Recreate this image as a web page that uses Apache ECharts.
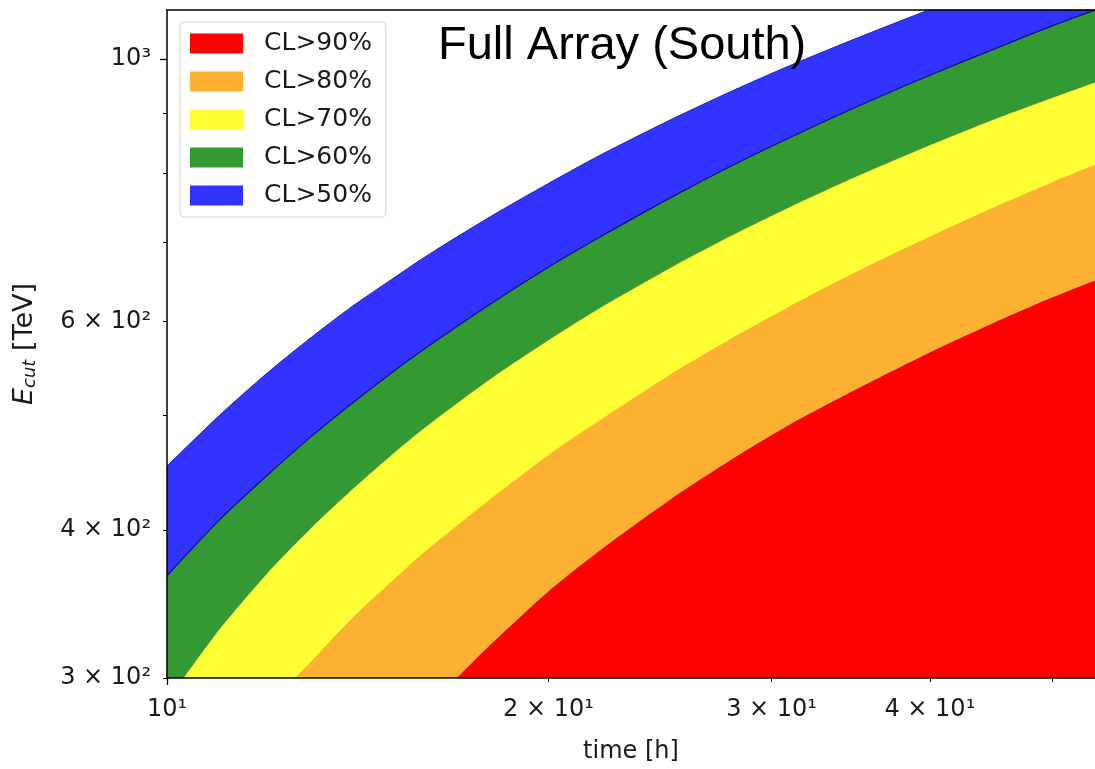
<!DOCTYPE html>
<html><head><meta charset="utf-8">
<script src="https://cdn.jsdelivr.net/npm/echarts@6/dist/echarts.min.js"></script>
<style>html,body{margin:0;padding:0;background:#fff}#c{width:1095px;height:769px}</style>
</head><body><div id="c"></div>
<script>
// ---- data ----
const seriesNames = ['CL>90%', 'CL>80%', 'CL>70%', 'CL>60%', 'CL>50%'];
const bandColors  = ['#ff0000', '#fdb132', '#ffff33', '#339933', '#3333ff'];

// upper boundary of each band: time [h] and E_cut [TeV]
const timeBlue   = [10, 11, 12, 13, 14, 15, 16, 18, 20, 22, 25, 28, 31, 35, 40, 45, 50, 54];
const eBlueTop   = [453, 500, 543, 582, 618, 650, 681, 736, 785, 830, 889, 941, 987, 1041, 1101, 1154, 1201, 1235];
const timeGreen  = [10, 11, 12, 13, 14, 15, 16, 18, 20, 22, 25, 28, 31, 35, 40, 45, 50, 54];
const eGreenTop  = [366, 408, 445, 480, 512, 542, 570, 621, 667, 708, 764, 814, 858, 911, 969, 1020, 1067, 1100];
const timeYellow = [10.3, 11, 12, 13, 14, 15, 16, 18, 20, 22, 25, 28, 31, 35, 40, 45, 50, 54];
const eYellowTop = [300, 330, 368, 402, 433, 462, 489, 537, 579, 617, 667, 711, 750, 796, 846, 890, 928, 956];
const timeOrange = [12.62, 13, 14, 15, 16, 18, 20, 22, 25, 28, 31, 35, 40, 45, 50, 54];
const eOrangeTop = [300, 310, 337, 361, 384, 425, 463, 496, 542, 582, 618, 661, 708, 750, 787, 814];
const timeRed    = [16.94, 18, 20, 22, 25, 28, 31, 35, 40, 45, 50, 54];
const eRedTop    = [300, 320, 355, 385, 425, 460, 491, 526, 565, 599, 629, 650];

// axes
const xMin = 10, xMax = 54, yMin = 300, yMax = 1100;
const xMajorTicks = [10];
const xMinorTicks = [20, 30, 40, 50];
const xLabelValues = [10, 20, 30, 40];
const xLabelTexts  = ['10¹', '2 × 10¹', '3 × 10¹', '4 × 10¹'];
const yMajorTicks = [1000];
const yMinorTicks = [300, 400, 500, 600, 700, 800, 900];
const yLabelValues = [300, 400, 600, 1000];
const yLabelTexts  = ['3 × 10²', '4 × 10²', '6 × 10²', '10³'];

const titleText = 'Full Array (South)';
const xName = 'time [h]';

// ---- chart ----
const zip = (a, b) => a.map((v, i) => [v, b[i]]);
const fmt = (vals, texts) => v => {
  for (let i = 0; i < vals.length; i++) if (Math.abs(v - vals[i]) / vals[i] < 1e-6) return texts[i];
  return '';
};
const baseFont = "'DejaVu Sans'";
const txt = '#1a1a1a';

const bands = [
  { name: seriesNames[4], data: zip(timeBlue, eBlueTop), color: bandColors[4], line: '#2020cc', lw: 1 },
  { name: seriesNames[3], data: zip(timeGreen, eGreenTop), color: bandColors[3], line: '#10107a', lw: 1.2 },
  { name: seriesNames[2], data: zip(timeYellow, eYellowTop), color: bandColors[2], line: '#5c8a2a', lw: 0.6 },
  { name: seriesNames[1], data: zip(timeOrange, eOrangeTop), color: bandColors[1], line: bandColors[1], lw: 0 },
  { name: seriesNames[0], data: zip(timeRed, eRedTop), color: bandColors[0], line: bandColors[0], lw: 0 }
];

const chart = echarts.init(document.getElementById('c'), null, { renderer: 'canvas' });
const axisLineStyle = { color: '#000', width: 1.5 };
chart.setOption({
  animation: false,
  backgroundColor: '#fff',
  title: {
    text: titleText, left: 433, top: 18,
    textStyle: { fontFamily: "'Liberation Sans'", fontSize: 47, fontWeight: 'normal', color: '#000' }
  },
  grid: { left: 167, right: 0, top: 10, bottom: 86, containLabel: false },
  legend: {
    data: seriesNames.map((n, i) => ({ name: n, icon: 'rect', itemStyle: { color: bandColors[i], borderWidth: 0 } })),
    orient: 'vertical', left: 180, top: 22,
    itemWidth: 53, itemHeight: 20, itemGap: 13,
    padding: [9, 14, 9, 10],
    borderColor: '#d4d4d4', borderWidth: 1, borderRadius: 4, backgroundColor: '#ffffff',
    textStyle: { fontFamily: baseFont, fontSize: 25, color: txt, padding: [0, 0, 0, 16] },
    selectedMode: false, z: 20
  },
  xAxis: [
    {
      type: 'log', logBase: 10, min: xMin, max: xMax, position: 'bottom', z: 10,
      name: xName, nameLocation: 'middle', nameGap: 62,
      nameTextStyle: { fontFamily: baseFont, fontSize: 24, color: txt },
      axisLine: { show: true, lineStyle: axisLineStyle },
      axisTick: { show: true, length: 7, lineStyle: { color: '#000', width: 1.3 }, customValues: xMajorTicks },
      axisLabel: { show: true, margin: 20, fontFamily: baseFont, fontSize: 24, color: txt, customValues: xLabelValues, formatter: fmt(xLabelValues, xLabelTexts) },
      splitLine: { show: false }, minorTick: { show: false }
    },
    {
      type: 'log', logBase: 10, min: xMin, max: xMax, position: 'bottom', z: 10,
      axisLine: { show: false },
      axisTick: { show: true, length: 4, lineStyle: { color: '#000', width: 1 }, customValues: xMinorTicks },
      axisLabel: { show: false }, splitLine: { show: false }
    },
    {
      type: 'log', logBase: 10, min: xMin, max: xMax, position: 'top', z: 10,
      axisLine: { show: true, lineStyle: axisLineStyle },
      axisTick: { show: false }, axisLabel: { show: false }, splitLine: { show: false }
    }
  ],
  yAxis: [
    {
      type: 'log', logBase: 10, min: yMin, max: yMax, position: 'left', z: 10,
      name: '{i|E}{s|cut} [TeV]', nameLocation: 'middle', nameGap: 128, nameRotate: 90,
      nameTextStyle: {
        fontFamily: baseFont, fontSize: 27, color: txt,
        rich: {
          i: { fontFamily: baseFont, fontSize: 27, fontStyle: 'italic', color: txt },
          s: { fontFamily: baseFont, fontSize: 18, fontStyle: 'italic', color: txt, padding: [11, 0, 0, 0] }
        }
      },
      axisLine: { show: true, lineStyle: axisLineStyle },
      axisTick: { show: true, length: 7, lineStyle: { color: '#000', width: 1.3 }, customValues: yMajorTicks },
      axisLabel: { show: true, margin: 16, fontFamily: baseFont, fontSize: 24, color: txt, customValues: yLabelValues, formatter: fmt(yLabelValues, yLabelTexts) },
      splitLine: { show: false }, minorTick: { show: false }
    },
    {
      type: 'log', logBase: 10, min: yMin, max: yMax, position: 'left', z: 10,
      axisLine: { show: false },
      axisTick: { show: true, length: 4, lineStyle: { color: '#000', width: 1 }, customValues: yMinorTicks },
      axisLabel: { show: false }, splitLine: { show: false }
    }
  ],
  series: bands.map(b => ({
    type: 'line', name: b.name, data: b.data,
    xAxisIndex: 0, yAxisIndex: 0,
    showSymbol: false, smooth: 0.25, clip: true,
    color: b.color,
    itemStyle: { color: b.color },
    lineStyle: { color: b.line, width: b.lw },
    areaStyle: { color: b.color, opacity: 1, origin: 'start' },
    emphasis: { disabled: true }
  }))
});
</script>
</body></html>
